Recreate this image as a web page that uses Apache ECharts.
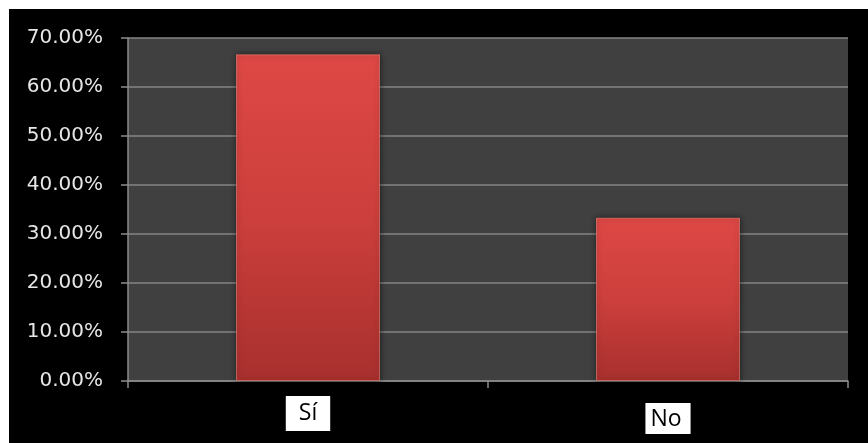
<!DOCTYPE html>
<html>
<head>
<meta charset="utf-8">
<script src="https://cdn.jsdelivr.net/npm/echarts@6/dist/echarts.min.js"></script>
<style>
  html, body { margin: 0; padding: 0; background: #ffffff; width: 868px; height: 443px; overflow: hidden; }
  #chart { position: absolute; left: 9px; top: 9px; width: 859px; height: 434px; }
</style>
</head>
<body>
<div id="chart"></div>
<script>
// Survey answers and their share of responses (percent)
const categories = ['Sí', 'No'];
const shares = [66.67, 33.33];
const yTicks = { min: 0, max: 70, step: 10 };

const chart = echarts.init(document.getElementById('chart'), null, { renderer: 'canvas' });

const boxBase = { color: '#000000', backgroundColor: '#ffffff', fontFamily: 'Open Sans', fontSize: 23, lineHeight: 23 };

chart.setOption({
  backgroundColor: '#000000',
  animation: false,
  grid: { left: 119, right: 20, top: 29, bottom: 62, show: true, backgroundColor: '#404040', borderWidth: 0 },
  xAxis: {
    type: 'category',
    data: categories,
    axisLine: { show: true, lineStyle: { color: '#8c8c8c', width: 1.5 } },
    axisTick: { show: true, length: 7, lineStyle: { color: '#8c8c8c', width: 1.5 } },
    axisLabel: {
      margin: 21,
      // each answer sits in its own white box; the second box is a little lower
      formatter: (v, i) => i === 0 ? '{a|' + v + '}' : '{gap| }\n{b|' + v + '}',
      rich: {
        a: Object.assign({}, boxBase, { padding: [6, 13, 6, 13] }),
        b: Object.assign({}, boxBase, { padding: [5, 9, 3, 5] }),
        gap: { fontSize: 1, lineHeight: 5 }
      }
    }
  },
  yAxis: {
    type: 'value',
    min: yTicks.min,
    max: yTicks.max,
    interval: yTicks.step,
    axisLine: { show: true, lineStyle: { color: '#8c8c8c', width: 1.5 } },
    axisTick: { show: true, length: 7, lineStyle: { color: '#8c8c8c', width: 1.5 } },
    splitLine: { show: true, lineStyle: { color: '#858585', width: 1.5 } },
    axisLabel: {
      color: '#e6e6e6',
      fontFamily: 'DejaVu Sans',
      fontSize: 20,
      margin: 25,
      formatter: v => v.toFixed(2) + '%'
    }
  },
  series: [{
    type: 'bar',
    data: shares,
    barWidth: '40%',
    itemStyle: {
      color: new echarts.graphic.LinearGradient(0, 0, 0, 1, [
        { offset: 0, color: '#de4845' },
        { offset: 0.5, color: '#cc3f3c' },
        { offset: 1, color: '#a8302e' }
      ]),
      borderColor: 'rgba(255,140,130,0.55)',
      borderWidth: 1,
      shadowColor: 'rgba(0,0,0,0.6)',
      shadowBlur: 6
    }
  }]
});
</script>
</body>
</html>
